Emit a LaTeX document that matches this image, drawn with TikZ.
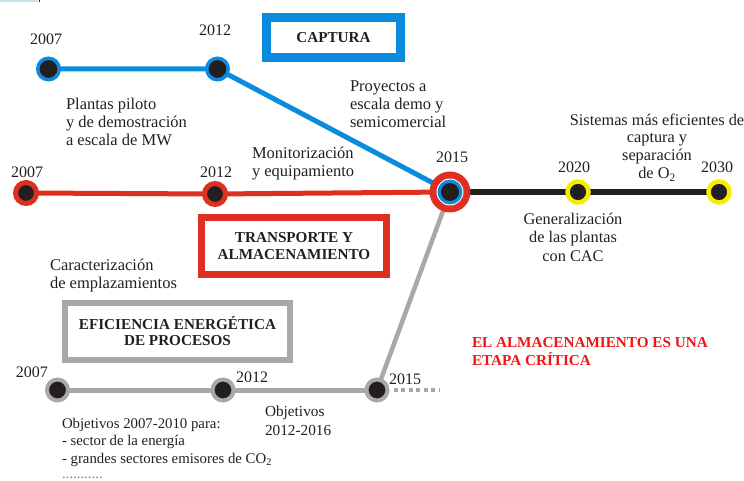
\documentclass[tikz,border=0pt]{standalone}
\usepackage{fontspec}
\setmainfont{Liberation Serif}
\usetikzlibrary{backgrounds}
\definecolor{capblue}{RGB}{10,140,222}
\definecolor{trred}{RGB}{222,48,32}
\definecolor{efgrey}{RGB}{168,168,168}
\definecolor{dotyel}{RGB}{245,238,0}
\definecolor{dotblk}{RGB}{35,31,32}
\definecolor{alertred}{RGB}{240,20,20}
\definecolor{tickcyan}{RGB}{190,230,235}
\begin{document}
\begin{tikzpicture}[x=1pt,y=-1pt,
  every node/.style={inner sep=0pt, outer sep=0pt, text=dotblk},
  txt/.style={font=\fontsize{16.5}{18}\selectfont, align=left, anchor=base west},
  ctxt/.style={font=\fontsize{16.3}{18}\selectfont, align=center, anchor=base},
  smalltxt/.style={font=\fontsize{14.8}{17.5}\selectfont, align=left, anchor=base west},
  year/.style={font=\fontsize{16}{18}\selectfont, anchor=base},
  dot/.style={circle, fill=dotblk},
  bluedot/.style={dot, draw=capblue, line width=3.5pt, minimum size=21.5pt},
  reddot/.style={dot, draw=trred, line width=5pt, minimum size=21pt},
  greydot/.style={dot, draw=efgrey, line width=4pt, minimum size=21pt},
  yeldot/.style={dot, draw=dotyel, line width=4.5pt, minimum size=21pt},
  titlebox/.style={draw, align=center, font=\bfseries\fontsize{15.2}{16.5}\selectfont},
  alert/.style={font=\bfseries\fontsize{15.2}{18}\selectfont, align=left, anchor=base west, text=alertred}
]
\useasboundingbox (0,0) rectangle (744,481);
\fill[tickcyan] (0,0) rectangle (38,2);
\fill[dotblk] (38.5,0) rectangle (39.5,2.5);

% hub 2015
\node[circle, fill=trred, minimum size=41pt] (hub) at (450,192) {};
\node[circle, fill=white, minimum size=27pt] (hubw) at (hub) {};
\node[circle, fill=capblue, minimum size=25pt] (hubb) at (hub) {};
\node[circle, fill=dotblk, minimum size=18pt] (hubk) at (hub) {};

% captura
\node[bluedot] (c07) at (48.5,69) {};
\node[bluedot] (c12) at (217.5,69) {};
% transporte
\node[reddot] (t07) at (26,193) {};
\node[reddot] (t12) at (215,194) {};
% general
\node[yeldot] (y20) at (578,192) {};
\node[yeldot] (y30) at (719,192) {};
% eficiencia
\node[greydot] (e07) at (57.5,390) {};
\node[greydot] (e12) at (223,390) {};
\node[greydot] (e15) at (377,390) {};
\coordinate (eend) at (440,390);

\begin{scope}[on background layer]
  \draw[capblue, line width=5pt] (c07.center) -- (c12.center) -- (hub.center);
  \draw[trred, line width=5pt] (t07.center) -- (t12.center) -- (hub.center);
  \draw[dotblk, line width=5.5pt] (hub.center) -- (y20.center) -- (y30.center);
  \draw[efgrey, line width=5pt] (e07.center) -- (e12.center) -- (e15.center);
  \draw[efgrey, line width=4.5pt] (e15.center) -- (hub.center);
  \draw[efgrey, line width=4pt, dash pattern=on 4pt off 3.5pt] (e15.east) ++(6,0) -- (eend);
\end{scope}

% boxes
\node[titlebox, draw=capblue, line width=9pt, minimum width=134pt, minimum height=40pt] (capbox) at (333.5,37.5) {CAPTURA};
\node[titlebox, draw=trred, line width=7pt, minimum width=185pt, minimum height=57pt] (trbox) at (294,246) {TRANSPORTE Y\\ALMACENAMIENTO};
\node[titlebox, draw=efgrey, line width=6pt, minimum width=225pt, minimum height=57pt] (efbox) at (177.5,331) {EFICIENCIA ENERGÉTICA\\DE PROCESOS};

% years
\node[year] (lc07) at (46,45) {2007};
\node[year] (lc12) at (215,36) {2012};
\node[year] (lt07) at (27,178) {2007};
\node[year] (lt12) at (216,178) {2012};
\node[year] (lh15) at (452,163) {2015};
\node[year] (ly20) at (574,173) {2020};
\node[year] (ly30) at (717,173) {2030};
\node[year] (le07) at (32,377) {2007};
\node[year] (le12) at (252,382) {2012};
\node[year] (le15) at (405,384) {2015};

% texts (anchor = baseline of the last line)
\node[txt] (tplantas) at (66,146) {Plantas piloto\\y de demostración\\a escala de MW};
\node[txt] (tproy) at (350,128) {Proyectos a\\escala demo y\\semicomercial};
\node[txt] (tmoni) at (252,177) {Monitorización\\y equipamiento};
\node[txt] (tcarac) at (50,288) {Caracterización\\de emplazamientos};
\node[ctxt] (tsist) at (657,179) {Sistemas más eficientes de\\captura y\\separación\\de O\textsubscript{2}};
\node[ctxt] (tgen) at (573,261) {Generalización\\de las plantas\\con CAC};
\node[smalltxt] (tobj1) at (62,463) {Objetivos 2007-2010 para:\\- sector de la energía\\- grandes sectores emisores de CO\textsubscript{2}};
\node[smalltxt, text=gray] (tdots) at (62,478) {...........};
\node[smalltxt, font=\fontsize{15.3}{19}\selectfont] (tobj2) at (265,435) {Objetivos\\2012-2016};
\node[alert] (talert) at (472,365) {EL ALMACENAMIENTO ES UNA\\ETAPA CRÍTICA};
\end{tikzpicture}
\end{document}
